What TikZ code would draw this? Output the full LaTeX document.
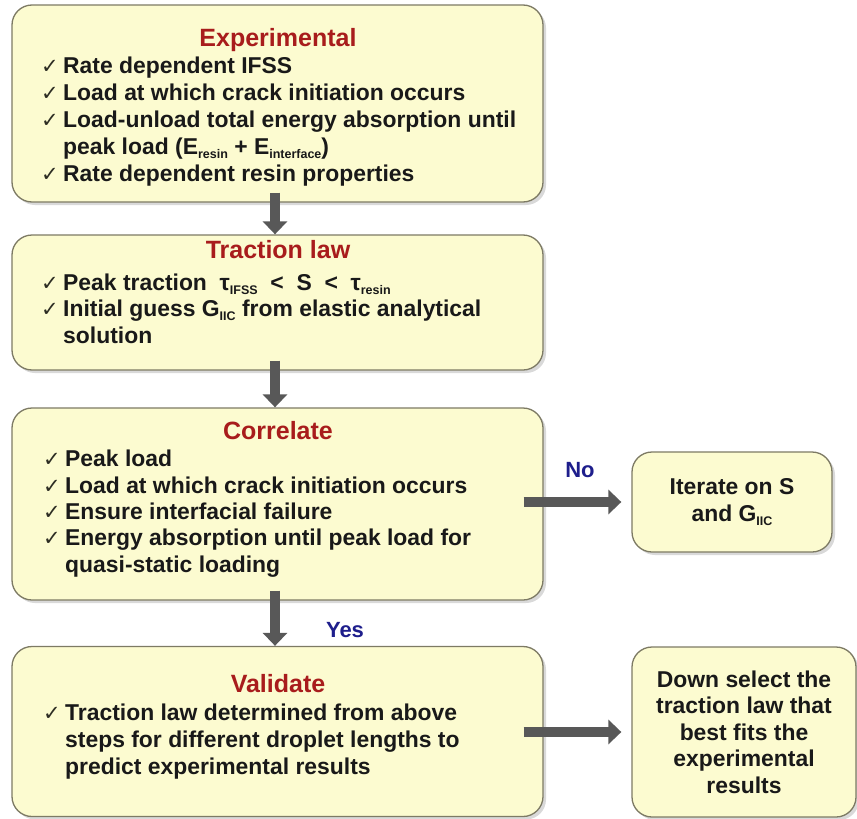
\documentclass[tikz,border=0pt]{standalone}
\usepackage{fontspec}
\setmainfont{Liberation Sans}
\newfontfamily\chk{DejaVu Sans}
\usetikzlibrary{arrows.meta,shadows}
\definecolor{boxfill}{RGB}{252,251,208}
\definecolor{boxline}{RGB}{125,122,100}
\definecolor{ttl}{RGB}{168,28,28}
\definecolor{lbl}{RGB}{30,30,140}
\definecolor{arr}{RGB}{88,88,88}
\definecolor{txt}{RGB}{25,25,25}
\definecolor{ckc}{RGB}{45,45,35}
\newcommand{\ck}{\makebox[22pt][l]{\raisebox{0pt}{\chk\fontsize{21}{21}\selectfont\color{ckc}✓}}}
\newcommand{\ind}{\hspace*{22pt}}
\newcommand{\lowsub}[1]{\raisebox{-4pt}{\fontsize{12.5}{12.5}\selectfont #1}}
\begin{document}
\begin{tikzpicture}[x=1pt,y=-1pt,
  box/.style={draw=boxline, line width=1.3pt, fill=boxfill, rounded corners=20pt,
    drop shadow={shadow xshift=3pt, shadow yshift=-3pt, opacity=0.3}, inner sep=0pt},
  ttlnode/.style={font=\fontsize{25}{28}\selectfont\bfseries, text=ttl, anchor=base, inner sep=0pt},
  body/.style={font=\fontsize{22.9}{27}\selectfont\bfseries, text=txt, align=left, anchor=north west, inner sep=0pt},
  bodyb/.style={body, font=\fontsize{22.9}{26.4}\selectfont\bfseries},
  sidetext/.style={font=\fontsize{22.9}{26.5}\selectfont\bfseries, text=txt, align=center},
  bigarrow/.style={draw=arr, line width=10pt, -{Triangle[width=24pt,length=13pt]}},
  lab/.style={font=\fontsize{22}{26}\selectfont\bfseries, text=lbl, inner sep=0pt}]
\useasboundingbox (0,0) rectangle (857,819);

% boxes
\node[box, minimum width=531pt, minimum height=197pt] (b1) at (277.5,103.5) {};
\node[box, minimum width=531pt, minimum height=135pt] (b2) at (277.5,302.5) {};
\node[box, minimum width=531pt, minimum height=192pt] (b3) at (277.5,504) {};
\node[box, minimum width=531pt, minimum height=170pt] (b4) at (277.5,731.5) {};
\node[box, sidetext, minimum width=200pt, minimum height=100pt] (b5) at (732,502)
  {Iterate on S\\and G\lowsub{IIC}};
\node[box, sidetext, minimum width=224pt, minimum height=170pt] (b6) at (744,732)
  {Down select the\\traction law that\\best fits the\\experimental\\results};

% titles
\node[ttlnode] (t1) at (278,46) {Experimental};
\node[ttlnode] (t2) at (278,258) {Traction law};
\node[ttlnode] (t3) at (278,439) {Correlate};
\node[ttlnode] (t4) at (278,692) {Validate};

% bodies
\node[body] (l1) at (41,56.5) {\ck Rate dependent IFSS\\
\ck Load at which crack initiation occurs\\
\ck Load-unload total energy absorption until\\
\ind peak load (E\lowsub{resin} + E\lowsub{interface})\\
\ck Rate dependent resin properties};
\node[bodyb] (l2) at (41,273.5) {\ck Peak traction \ τ\lowsub{IFSS} \ <\ \ S \ <\ \ τ\lowsub{resin}\\
\ck Initial guess G\lowsub{IIC} from elastic analytical\\
\ind solution};
\node[bodyb] (l3) at (43,450) {\ck Peak load\\
\ck Load at which crack initiation occurs\\
\ck Ensure interfacial failure\\
\ck Energy absorption until peak load for\\
\ind quasi-static loading};
\node[body] (l4) at (43,703.5) {\ck Traction law determined from above\\
\ind steps for different droplet lengths to\\
\ind predict experimental results};

% arrows
\draw[bigarrow] ([xshift=-2.5pt,yshift=10pt]b1.south) -- ([xshift=-2.5pt]b2.north);
\draw[bigarrow] ([xshift=-2.5pt,yshift=10pt]b2.south) -- ([xshift=-2.5pt]b3.north);
\draw[bigarrow] ([xshift=-2.5pt,yshift=10pt]b3.south) -- ([xshift=-2.5pt]b4.north);
\draw[bigarrow] ([xshift=-20pt]b3.east |- b5.west) -- ([xshift=-10pt]b5.west);
\draw[bigarrow] ([xshift=-20pt]b4.east |- b6.west) -- ([xshift=-10pt]b6.west);

% labels
\node[lab] (no) at (580,470) {No};
\node[lab] (yes) at (345,630) {Yes};
\end{tikzpicture}
\end{document}
